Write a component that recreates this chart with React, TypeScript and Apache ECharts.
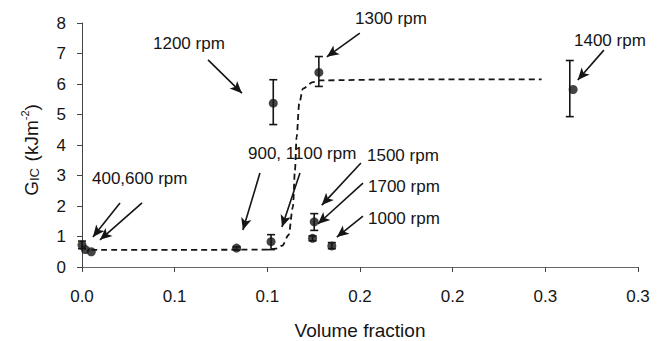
import React, { useEffect, useRef } from "react";
import * as echarts from "echarts";

// Tick labels as printed on the original figure (rounded to 1 decimal)
const xTickLabels = ["0.0", "0.1", "0.1", "0.2", "0.2", "0.3", "0.3"];
const yTickLabels = ["0", "1", "2", "3", "4", "5", "6", "7", "8"];

// Measured points: [volume fraction, GIC]
const pointsX = [0.0, 0.0018, 0.005, 0.0834, 0.102, 0.1032, 0.1244, 0.1253, 0.1278, 0.1348, 0.265];
const pointsY = [0.72, 0.57, 0.5, 0.62, 0.83, 5.37, 0.94, 1.48, 6.38, 0.69, 5.82];

// Error bars: x, low, high
const errX = [0.0, 0.0834, 0.102, 0.1032, 0.1244, 0.1253, 0.1278, 0.1348, 0.2632];
const errLow = [0.6, 0.56, 0.57, 4.67, 0.86, 1.2, 5.92, 0.6, 4.93];
const errHigh = [0.85, 0.66, 1.06, 6.14, 1.02, 1.75, 6.9, 0.8, 6.77];

// Dashed trend curve
const curveX = [0.005, 0.05, 0.1, 0.1045, 0.108, 0.1115, 0.1138, 0.1149, 0.1158, 0.1172, 0.1192, 0.1246, 0.1284, 0.17, 0.248];
const curveY = [0.56, 0.56, 0.57, 0.6, 0.7, 1.05, 1.97, 3.17, 4.26, 5.36, 5.85, 6.06, 6.12, 6.15, 6.15];

// Annotation labels
const annoText = ["400,600 rpm", "900, 1100 rpm", "1500 rpm", "1700 rpm", "1000 rpm", "1300 rpm", "1200 rpm", "1400 rpm"];

// Annotation arrows (data coords): [x1, y1, x2, y2]
const arrows = [
  [0.0205, 2.1, 0.0059, 0.98],
  [0.0324, 2.1, 0.0097, 0.89],
  [0.096, 3.08, 0.0868, 1.21],
  [0.1176, 3.08, 0.1079, 1.31],
  [0.1505, 3.41, 0.1294, 2.03],
  [0.1516, 2.75, 0.1273, 1.41],
  [0.1516, 1.67, 0.1375, 0.98],
  [0.1499, 7.67, 0.1321, 6.89],
  [0.068, 6.79, 0.0863, 5.7],
  [0.2816, 7.11, 0.2675, 6.13],
];

const FONT = "Liberation Sans, Arial, Helvetica, sans-serif";
const INK = "#151515";

export default function App() {
  const ref = useRef<HTMLDivElement>(null);

  useEffect(() => {
    document.body.style.margin = "0";
    const chart = echarts.init(ref.current!, null, { renderer: "svg" });

    const annoPos = [
      [92, 178],
      [248, 153],
      [367, 155],
      [368, 186],
      [368, 218],
      [355, 18],
      [153, 43],
      [574, 40],
    ];

    const graphics: any[] = annoText.map((t, i) => ({
      type: "text",
      x: annoPos[i][0],
      y: annoPos[i][1],
      silent: true,
      style: { text: t, fontSize: 17, fontFamily: FONT, fill: INK, verticalAlign: "middle", align: "left" },
    }));
    graphics.push({
      type: "text",
      x: 360,
      y: 330,
      silent: true,
      style: { text: "Volume fraction", fontSize: 19, fontFamily: FONT, fill: INK, align: "center", verticalAlign: "middle" },
    });
    graphics.push({
      type: "text",
      x: 30,
      y: 150,
      rotation: Math.PI / 2,
      silent: true,
      style: {
        text: "{a|G}{b|IC}  {a|(kJm}{c|-2}{a|)}",
        fontFamily: FONT,
        fill: INK,
        align: "center",
        verticalAlign: "middle",
        rich: {
          a: { fontSize: 19, fontFamily: FONT, fill: INK, lineHeight: 22, verticalAlign: "bottom" },
          b: { fontSize: 13, fontFamily: FONT, fill: INK, lineHeight: 18, verticalAlign: "bottom" },
          c: { fontSize: 11, fontFamily: FONT, fill: INK, lineHeight: 12, verticalAlign: "top" },
        },
      },
    });

    chart.setOption({
      animation: false,
      backgroundColor: "#fff",
      grid: { left: 82, right: 26, top: 23, bottom: 74, containLabel: false },
      xAxis: {
        type: "value",
        min: 0,
        max: 0.3,
        interval: 0.05,
        axisLine: { show: true, lineStyle: { color: "#666", width: 1 } },
        axisTick: { show: true, length: 5, lineStyle: { color: "#444" } },
        splitLine: { show: false },
        axisLabel: {
          margin: 21,
          fontSize: 17,
          fontFamily: FONT,
          color: INK,
          formatter: (_v: number, idx: number) => xTickLabels[idx] ?? "",
        },
      },
      yAxis: {
        type: "value",
        min: 0,
        max: 8,
        interval: 1,
        axisLine: { show: true, lineStyle: { color: "#444", width: 1 } },
        axisTick: { show: true, length: 5, lineStyle: { color: "#444" } },
        splitLine: { show: false },
        axisLabel: {
          margin: 16,
          fontSize: 17,
          fontFamily: FONT,
          color: INK,
          formatter: (_v: number, idx: number) => yTickLabels[idx] ?? "",
        },
      },
      graphic: graphics,
      series: [
        {
          type: "line",
          data: curveX.map((x, i) => [x, curveY[i]]),
          showSymbol: false,
          smooth: 0.3,
          smoothMonotone: "x",
          lineStyle: { color: INK, width: 1.8, type: [6, 4] },
          silent: true,
          z: 2,
          markLine: {
            silent: true,
            symbol: ["none", "arrow"],
            symbolSize: [8, 12],
            label: { show: false },
            lineStyle: { color: INK, width: 1.6, type: "solid" },
            data: arrows.map((a) => [{ coord: [a[0], a[1]] }, { coord: [a[2], a[3]] }]),
          },
        },
        {
          type: "custom",
          data: errX.map((x, i) => [x, errLow[i], errHigh[i]]),
          silent: true,
          z: 3,
          renderItem: (_params: any, api: any) => {
            const lo = api.coord([api.value(0), api.value(1)]);
            const hi = api.coord([api.value(0), api.value(2)]);
            const w = 4;
            const st = { stroke: INK, lineWidth: 1.6 };
            return {
              type: "group",
              children: [
                { type: "line", shape: { x1: lo[0], y1: lo[1], x2: hi[0], y2: hi[1] }, style: st },
                { type: "line", shape: { x1: lo[0] - w, y1: lo[1], x2: lo[0] + w, y2: lo[1] }, style: st },
                { type: "line", shape: { x1: hi[0] - w, y1: hi[1], x2: hi[0] + w, y2: hi[1] }, style: st },
              ],
            };
          },
        },
        {
          type: "scatter",
          data: pointsX.map((x, i) => [x, pointsY[i]]),
          symbol: "circle",
          symbolSize: 9,
          itemStyle: { color: INK },
          silent: true,
          z: 4,
        },
      ],
    });

    return () => chart.dispose();
  }, []);

  return (
    <div
      ref={ref}
      style={{ position: "fixed", left: 0, top: 0, width: 664, height: 341 }}
    />
  );
}
